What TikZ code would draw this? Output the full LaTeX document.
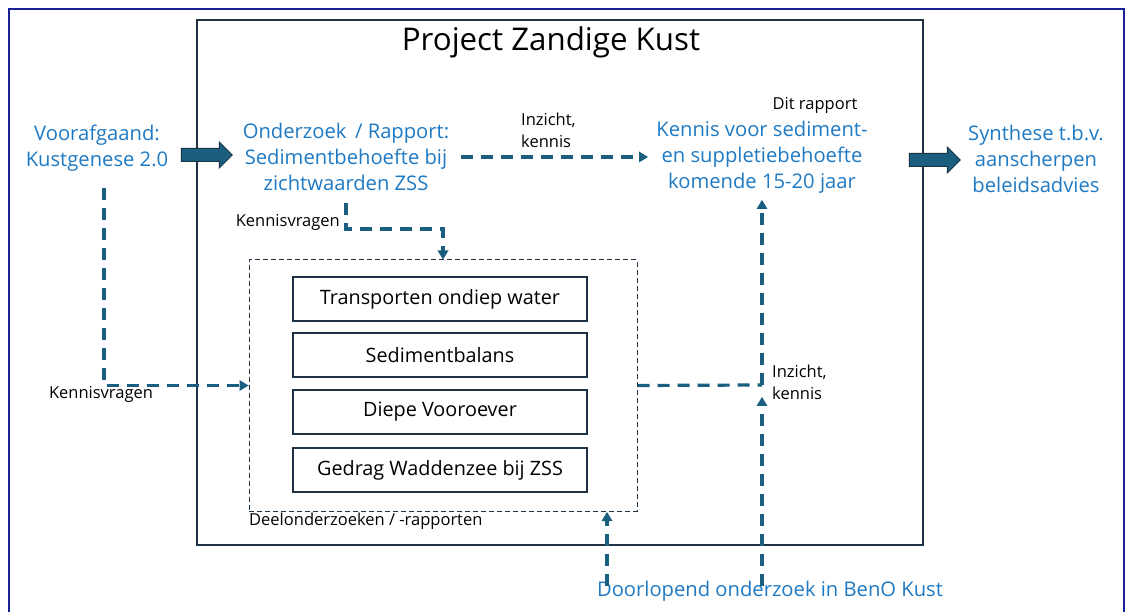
\documentclass[tikz,border=0pt]{standalone}
\usepackage{fontspec}
\setmainfont{Open Sans}
\usetikzlibrary{arrows.meta,shapes.arrows}
\definecolor{frameblue}{HTML}{1A1F9A}
\definecolor{boxline}{HTML}{1F3344}
\definecolor{txtblue}{HTML}{1F7AC4}
\definecolor{arrowc}{HTML}{1A5F80}
\definecolor{arrowedge}{HTML}{173447}
\tikzset{
  bluetxt/.style={text=txtblue, font=\fontsize{20.2}{26}\selectfont, align=center, inner sep=0},
  smalltxt/.style={text=black, font=\fontsize{16.5}{22}\selectfont, inner sep=0},
  subbox/.style={draw=boxline, line width=1.4pt, minimum width=294pt, minimum height=44pt, inner sep=0, font=\fontsize{19.8}{22}\selectfont},
  dashconn/.style={draw=arrowc, line width=3.2pt, dash pattern=on 12pt off 8pt},
  bigarrow/.style={single arrow, draw=arrowedge, fill=arrowc, line width=1pt, inner xsep=0pt, inner ysep=6pt, text height=0pt, text depth=0pt, single arrow head extend=6.5pt, minimum height=51pt}
}
\begin{document}
\begin{tikzpicture}[x=1pt,y=-1pt]
\useasboundingbox (0,0) rectangle (1128,612);
\fill[white] (0,0) rectangle (1128,612);
% frames
\draw[frameblue, line width=1.6pt] (9,630) -- (9,9) -- (1124,9) -- (1124,630);
\draw[boxline, line width=1.5pt] (197,20) rectangle (923,545);
\node[font=\fontsize{31.3}{34}\selectfont, inner sep=0] (title) at (551,42) {Project Zandige Kust};
% main texts
\node[bluetxt] (voor) at (97,148) {Voorafgaand:\\Kustgenese 2.0};
\node[bluetxt] (ond) at (346,157) {Onderzoek\,\ / Rapport:\\Sedimentbehoefte bij\\zichtwaarden ZSS};
\node[bluetxt] (kennis) at (762,157) {Kennis voor sediment-\\en suppletiebehoefte\\komende 15-20 jaar};
\node[bluetxt] (synth) at (1036,159) {Synthese t.b.v.\\aanscherpen\\beleidsadvies};
\node[bluetxt] (doorl) at (770,591) {Doorlopend onderzoek in BenO Kust};
% block arrows
\node[bigarrow] (ba1) at (203.5,155) {};
\node[bigarrow] (ba2) at (931.5,160) {};
% dashed frame and sub boxes
\node[draw=boxline, line width=1pt, dashed, dash pattern=on 5pt off 3pt, minimum width=388pt, minimum height=251pt, inner sep=0] (deel) at (443,385.5) {};
\node[subbox] (b1) at (440,299) {Transporten ondiep water};
\node[subbox] (b2) at (440,355) {Sedimentbalans};
\node[subbox] (b3) at (440,412) {Diepe Vooroever};
\node[subbox] (b4) at (440,470) {Gedrag Waddenzee bij ZSS};
% small labels
\node[smalltxt, anchor=west] (deellab) at (249,521) {Deelonderzoeken / -rapporten};
\node[smalltxt, anchor=east] (kv1) at (340,222) {Kennisvragen};
\node[smalltxt] (kv2) at (101,394) {Kennisvragen};
\node[smalltxt, align=left, anchor=west] (ik1) at (521,130) {Inzicht,\\kennis};
\node[smalltxt, align=left, anchor=west] (ik2) at (772,382) {Inzicht,\\kennis};
\node[smalltxt] (dit) at (815,105) {Dit rapport};
% connector helper coordinates
\coordinate (c1) at (461,157);
\coordinate (c2) at (648,157);
\coordinate (c3) at (346,203);
\coordinate (c4) at (104,188);
\coordinate (c5) at (762,385);
\coordinate (c6) at (762,200);
\coordinate (c7) at (762,586);
\coordinate (c8) at (762,397);
\coordinate (c9) at (607,586);
\coordinate (c10) at (607,512);
% dashed connectors (note: y axis points down, so shifts are written in picture units)
\draw[dashconn] (c1) -- ([xshift=-8pt]c2);
\fill[arrowc] (c2) -- ++(-9,-5.5) -- ++(0,11) -- cycle;
\draw[dashconn] (c3) |- (443,229) -- ([yshift=8pt]deel.north);
\fill[arrowc] (deel.north) -- ++(-5.5,-9) -- ++(11,0) -- cycle;
\draw[dashconn] (c4) |- ([xshift=-8pt]deel.west);
\fill[arrowc] (deel.west) -- ++(-9,-5.5) -- ++(0,11) -- cycle;
\draw[dashconn] (deel.east) -- (c5);
\draw[dashconn] (c5) -- ([yshift=-8pt]c6);
\fill[arrowc] (c6) -- ++(-5.5,9) -- ++(11,0) -- cycle;
\draw[dashconn] (c7) -- ([yshift=-8pt]c8);
\fill[arrowc] (c8) -- ++(-5.5,9) -- ++(11,0) -- cycle;
\draw[dashconn] (c9) -- ([yshift=-8pt]c10);
\fill[arrowc] (c10) -- ++(-5.5,9) -- ++(11,0) -- cycle;
\end{tikzpicture}
\end{document}
